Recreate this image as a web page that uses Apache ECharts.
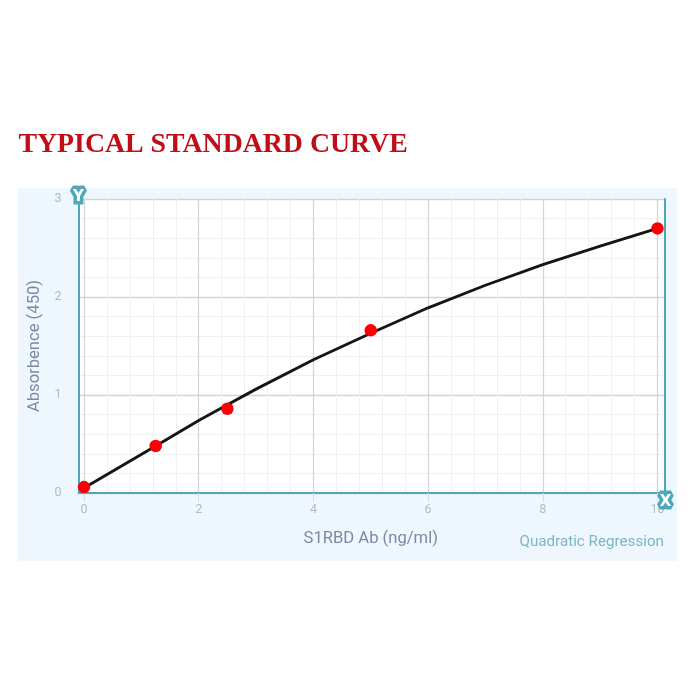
<!DOCTYPE html>
<html>
<head>
<meta charset="utf-8">
<style>
html,body{margin:0;padding:0;background:#fff;}
#panel{position:absolute;left:18px;top:188px;width:659px;height:373px;background:#eff7fe;}
#main{position:absolute;left:0;top:0;width:700px;height:700px;}
</style>
<script src="https://cdn.jsdelivr.net/npm/echarts@6/dist/echarts.min.js"></script>
</head>
<body>
<div id="panel"></div>
<div id="main"></div>
<script>
var pointX = [0, 1.25, 2.5, 5, 10];
var pointY = [0.06, 0.48, 0.86, 1.66, 2.7];
var curveX = [0, 1.25, 2, 2.5, 3, 4, 5, 6, 7, 8, 9, 10];
var curveY = [0.05, 0.48, 0.74, 0.9, 1.06, 1.36, 1.63, 1.89, 2.12, 2.33, 2.52, 2.7];
var chartTitle = 'TYPICAL STANDARD CURVE';
var xName = 'S1RBD Ab (ng/ml)';
var yName = 'Absorbence (450)';
var fitName = 'Quadratic Regression';

function zip(a, b) { return a.map(function (v, i) { return [v, b[i]]; }); }

var teal = '#4fa8b8', majorGrid = '#d2d4d5', minorGrid = '#eff0f1', tickText = '#b5b9bd';
var chart = echarts.init(document.getElementById('main'), null, { renderer: 'canvas' });
chart.setOption({
  animation: false,
  backgroundColor: 'transparent',
  title: [
    { text: chartTitle, left: 18.5, top: 131, padding: 0,
      textStyle: { fontFamily: 'Liberation Serif', fontWeight: 'bold', fontSize: 27.8, color: '#c00d17' } },
    { text: fitName, right: 36, top: 534.5, padding: 0,
      textStyle: { fontFamily: 'Roboto', fontWeight: 'normal', fontSize: 15.2, color: '#7cb5c6' } }
  ],
  grid: [
    { left: 78.5, width: 586, top: 199, height: 294, show: true, backgroundColor: '#fff', borderWidth: 0 },
    { left: 84, width: 573.5, top: 199, height: 294, show: false }
  ],
  xAxis: [
    { gridIndex: 0, type: 'value', min: 0, max: 1, axisLabel: { show: false }, axisTick: { show: false },
      splitLine: { show: false }, axisLine: { show: true, onZero: false, lineStyle: { color: teal, width: 2 } } },
    { gridIndex: 1, type: 'value', min: 0, max: 10, interval: 2,
      name: xName, nameLocation: 'middle', nameGap: 37,
      nameTextStyle: { fontFamily: 'Roboto', fontSize: 16.6, color: '#7b89a3' },
      axisLine: { show: false },
      axisTick: { show: true, length: 9, lineStyle: { color: '#d3dde6', width: 1 } },
      axisLabel: { margin: 10, fontFamily: 'Roboto', fontSize: 12.5, color: tickText },
      splitLine: { show: true, lineStyle: { color: majorGrid, width: 1.2 } },
      minorTick: { show: false, splitNumber: 5 },
      minorSplitLine: { show: true, lineStyle: { color: minorGrid, width: 1 } } }
  ],
  yAxis: [
    { gridIndex: 0, type: 'value', min: 0, max: 3, interval: 1,
      name: yName, nameLocation: 'middle', nameGap: 29,
      nameTextStyle: { fontFamily: 'Roboto', fontSize: 16.6, color: '#7b89a3' },
      axisLine: { show: true, onZero: false, lineStyle: { color: teal, width: 2 } },
      axisTick: { show: false },
      axisLabel: { margin: 17, fontFamily: 'Roboto', fontSize: 12.5, color: tickText },
      splitLine: { show: true, lineStyle: { color: majorGrid, width: 1.4 } },
      minorTick: { show: false, splitNumber: 5 },
      minorSplitLine: { show: true, lineStyle: { color: minorGrid, width: 1 } } },
    { gridIndex: 0, type: 'value', min: 0, max: 3, position: 'right', interval: 1,
      axisLine: { show: true, onZero: false, lineStyle: { color: teal, width: 2 } },
      axisTick: { show: false }, axisLabel: { show: false }, splitLine: { show: false } },
    { gridIndex: 1, type: 'value', min: 0, max: 3, interval: 1, show: false }
  ],
  series: [
    { type: 'line', xAxisIndex: 1, yAxisIndex: 2, data: zip(curveX, curveY), smooth: false,
      showSymbol: false, symbol: 'none', z: 3, lineStyle: { color: '#151515', width: 2.9, join: 'round' } },
    { type: 'scatter', xAxisIndex: 1, yAxisIndex: 2, data: zip(pointX, pointY), symbol: 'circle',
      symbolSize: 12.5, z: 4, itemStyle: { color: '#fc0006', opacity: 1 } }
  ],
  graphic: [
    { type: 'text', x: 78.5, y: 197.5, z: 100, style: { text: 'Y', x: 0, y: 0, align: 'center', verticalAlign: 'middle',
      font: '900 15px "DejaVu Sans"', fill: '#fff', stroke: teal, lineWidth: 7, strokeFirst: true, lineJoin: 'round' } },
    { type: 'text', x: 665.5, y: 502, z: 100, style: { text: 'X', x: 0, y: 0, align: 'center', verticalAlign: 'middle',
      font: '900 15px "DejaVu Sans"', fill: '#fff', stroke: teal, lineWidth: 7, strokeFirst: true, lineJoin: 'round' } }
  ]
});
</script>
</body>
</html>
